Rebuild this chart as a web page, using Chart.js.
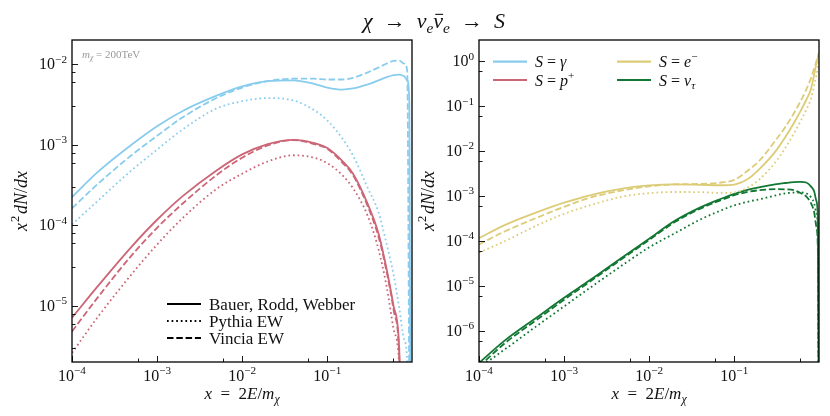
<!DOCTYPE html>
<html>
<head>
<meta charset="utf-8">
<script src="https://cdn.jsdelivr.net/npm/chart.js@4.4.0/dist/chart.umd.min.js"></script>
<style>
  html, body { margin: 0; padding: 0; background: #fff; }
  #marco { position: relative; width: 830px; height: 416px; }
  canvas { position: absolute; left: 0; top: 0; }
</style>
</head>
<body>
<div id="marco">
  <canvas id="izq" width="830" height="416"></canvas>
  <canvas id="der" width="830" height="416"></canvas>
</div>
<script>
// Puntos en x = 2E/m_chi (compartidos por todas las curvas)
const xPuntos = [1e-4, 2e-4, 5e-4, 1e-3, 2e-3, 5e-3, 1e-2, 2e-2, 4e-2, 7e-2, 0.1, 0.15, 0.2, 0.3, 0.4, 0.5, 0.6, 0.7, 0.8, 0.87, 0.92, 0.96, 0.99];

// Panel izquierdo: S = gamma
const gammaBRW    = [2.24e-4, 4.57e-4, 1.0e-3, 1.70e-3, 2.63e-3, 4.07e-3, 5.3e-3, 6.17e-3, 6.31e-3, 5.69e-3, 5.13e-3, 4.84e-3, 5.0e-3, 5.62e-3, 6.31e-3, 6.92e-3, 7.33e-3, 7.41e-3, 7.08e-3, 6.31e-3, 3.55e-3, 1e-8, 1e-8];
const gammaPythia = [1.02e-4, 2.0e-4, 4.8e-4, 8.7e-4, 1.55e-3, 2.82e-3, 3.47e-3, 3.8e-3, 3.55e-3, 2.69e-3, 2.0e-3, 1.2e-3, 7.4e-4, 2.88e-4, 1.45e-4, 5.75e-5, 2.45e-5, 9.5e-6, 3.8e-6, 2.0e-6, 1e-8, 1e-8, 1e-8];
const gammaVincia = [1.62e-4, 3.24e-4, 7.4e-4, 1.29e-3, 2.19e-3, 3.8e-3, 5.13e-3, 6.17e-3, 6.61e-3, 6.61e-3, 6.46e-3, 6.46e-3, 6.76e-3, 7.94e-3, 9.12e-3, 1.02e-2, 1.10e-2, 1.11e-2, 1.02e-2, 8.3e-3, 1e-6, 1e-8, 1e-8];

// Panel izquierdo: S = p+
const protonBRW    = [7.1e-6, 1.74e-5, 5.4e-5, 1.17e-4, 2.3e-4, 4.8e-4, 7.6e-4, 1.02e-3, 1.15e-3, 1.05e-3, 9.1e-4, 6.3e-4, 4.4e-4, 1.82e-4, 7.9e-5, 2.8e-5, 1.0e-5, 3.0e-6, 1e-8, 1e-8, 1e-8, 1e-8, 1e-8];
const protonPythia = [2.6e-6, 7.2e-6, 2.45e-5, 5.75e-5, 1.23e-4, 2.82e-4, 4.37e-4, 6.2e-4, 7.4e-4, 6.9e-4, 5.9e-4, 4.2e-4, 2.9e-4, 1.29e-4, 5.0e-5, 1.7e-5, 5.2e-6, 1.78e-6, 1e-8, 1e-8, 1e-8, 1e-8, 1e-8];
const protonVincia = [4.8e-6, 1.26e-5, 4.2e-5, 9.3e-5, 1.86e-4, 4.2e-4, 6.9e-4, 9.8e-4, 1.14e-3, 1.02e-3, 8.9e-4, 6.0e-4, 4.2e-4, 1.7e-4, 7.2e-5, 2.6e-5, 9.0e-6, 2.4e-6, 1e-8, 1e-8, 1e-8, 1e-8, 1e-8];

// Panel derecho: S = e-
const electronBRW    = [1.15e-4, 2.24e-4, 4.47e-4, 7.1e-4, 1.04e-3, 1.48e-3, 1.72e-3, 1.82e-3, 1.78e-3, 1.74e-3, 1.80e-3, 2.51e-3, 4.07e-3, 9.5e-3, 2.1e-2, 4.2e-2, 7.8e-2, 0.138, 0.25, 0.52, 0.87, 1.2, 1.45];
const electronPythia = [5.5e-5, 9.8e-5, 2.3e-4, 4.0e-4, 6.2e-4, 9.8e-4, 1.16e-3, 1.23e-3, 1.22e-3, 1.17e-3, 1.2e-3, 1.62e-3, 2.4e-3, 5.5e-3, 1.2e-2, 2.45e-2, 4.6e-2, 8.3e-2, 0.151, 0.295, 0.48, 0.76, 1.12];
const electronVincia = [8.3e-5, 1.62e-4, 3.4e-4, 5.75e-4, 9.1e-4, 1.35e-3, 1.64e-3, 1.82e-3, 1.86e-3, 2.0e-3, 2.29e-3, 3.9e-3, 6.3e-3, 1.66e-2, 3.5e-2, 6.9e-2, 0.129, 0.234, 0.43, 0.71, 0.99, 1.29, 1.58];

// Panel derecho: S = nu_tau
const tauBRW    = [1.9e-7, 6.0e-7, 2.1e-6, 5.4e-6, 1.32e-5, 4.5e-5, 1.12e-4, 2.8e-4, 5.6e-4, 8.7e-4, 1.12e-3, 1.41e-3, 1.58e-3, 1.82e-3, 1.95e-3, 2.04e-3, 2.07e-3, 2.0e-3, 1.62e-3, 1.26e-3, 7.9e-4, 3.2e-4, 1e-9];
const tauPythia = [1.48e-7, 3.8e-7, 1.35e-6, 3.47e-6, 8.9e-6, 3.0e-5, 7.2e-5, 1.48e-4, 3.0e-4, 4.8e-4, 6.2e-4, 7.6e-4, 8.5e-4, 1.02e-3, 1.15e-3, 1.19e-3, 1.2e-3, 1.15e-3, 9.3e-4, 6.8e-4, 4.2e-4, 1.41e-4, 1e-9];
const tauVincia = [1.58e-7, 5.2e-7, 1.86e-6, 4.9e-6, 1.23e-5, 4.2e-5, 1.05e-4, 2.63e-4, 5.25e-4, 8.1e-4, 1.04e-3, 1.26e-3, 1.35e-3, 1.43e-3, 1.41e-3, 1.35e-3, 1.17e-3, 9.8e-4, 6.8e-4, 4.3e-4, 2.1e-4, 6.3e-5, 1e-9];

// Exponentes de las etiquetas de los ejes
const expX = [-4, -3, -2, -1];
const expYIzq = [-5, -4, -3, -2];
const expYDer = [-6, -5, -4, -3, -2, -1, 0];

const colores = { gamma: '#88CCEE', proton: '#CC6677', electron: '#DDCC77', tau: '#117733' };
const trazos = { solido: [], punteado: [1.7, 2.9], rayado: [6.5, 2.8] };
const FUENTE = '"Liberation Serif", "DejaVu Serif", serif';
const ESP = '\u2002';

// --- texto con subindices / superindices ---
const R = t => ({ t });
const I = t => ({ t, i: true });
const SUP = (t, i) => ({ t, v: 'sup', i });
const SUB = (t, i) => ({ t, v: 'sub', i });

function fuente(p, size) {
  const s = p.v ? size * 0.7 : size;
  return (p.i ? 'italic ' : '') + s + 'px ' + FUENTE;
}
function textoRico(ctx, partes, x, y, size, align) {
  let w = 0;
  partes.forEach(p => { ctx.font = fuente(p, size); w += ctx.measureText(p.t).width + (p.g || 0); });
  let cx = align === 'center' ? x - w / 2 : align === 'right' ? x - w : x;
  ctx.textAlign = 'left';
  ctx.textBaseline = 'alphabetic';
  partes.forEach(p => {
    ctx.font = fuente(p, size);
    const dy = p.v === 'sup' ? -0.42 * size : p.v === 'sub' ? 0.22 * size : 0;
    ctx.fillText(p.t, cx, y + dy);
    const pw = ctx.measureText(p.t).width;
    if (p.bar) {
      ctx.save();
      ctx.lineWidth = size * 0.05;
      ctx.strokeStyle = ctx.fillStyle;
      ctx.beginPath();
      ctx.moveTo(cx + pw * 0.2, y - size * 0.62);
      ctx.lineTo(cx + pw * 1.0, y - size * 0.62);
      ctx.stroke();
      ctx.restore();
    }
    cx += pw + (p.g || 0);
  });
}
const etiquetaPotencia = e => [R('10'), SUP(e < 0 ? '\u2212' + (-e) : String(e))];

// ticks 1..9 x 10^k dentro del rango
function ticksLog(scale) {
  const lista = [];
  for (let k = -8; k <= 1; k++) {
    for (let m = 1; m <= 9; m++) {
      const v = m * Math.pow(10, k);
      if (v >= scale.min * 0.9999 && v <= scale.max * 1.0001) lista.push({ value: v, major: m === 1 });
    }
  }
  scale.ticks = lista;
}

function serie(ys, color, estilo) {
  return {
    data: xPuntos.map((x, i) => ({ x, y: ys[i] })),
    borderColor: color,
    borderWidth: 1.8,
    borderDash: trazos[estilo],
    borderCapStyle: 'butt',
    pointRadius: 0,
    fill: false,
    cubicInterpolationMode: 'monotone',
    tension: 0.4
  };
}

// Marco, ticks hacia dentro, etiquetas y titulos de ejes
const ejes = {
  id: 'ejes',
  afterDraw(chart, args, opts) {
    const ctx = chart.ctx, a = chart.chartArea;
    const sx = chart.scales.x, sy = chart.scales.y;
    ctx.save();
    ctx.strokeStyle = '#000';
    ctx.fillStyle = '#111';
    ctx.lineWidth = 0.9;
    ctx.beginPath();
    sx.ticks.forEach(t => {
      const px = Math.round(sx.getPixelForValue(t.value)) + 0.5;
      const len = t.major ? 6 : 3.5;
      ctx.moveTo(px, a.bottom); ctx.lineTo(px, a.bottom - len);
    });
    sy.ticks.forEach(t => {
      const py = Math.round(sy.getPixelForValue(t.value)) + 0.5;
      const len = t.major ? 6 : 3.5;
      ctx.moveTo(a.left, py); ctx.lineTo(a.left + len, py);
    });
    ctx.stroke();
    ctx.lineWidth = 1.3;
    ctx.strokeRect(a.left, a.top, a.right - a.left, a.bottom - a.top);

    expX.forEach(e => {
      const px = sx.getPixelForValue(Math.pow(10, e));
      textoRico(ctx, etiquetaPotencia(e), px, a.bottom + 19, 16, 'center');
    });
    opts.expY.forEach(e => {
      const py = sy.getPixelForValue(Math.pow(10, e));
      textoRico(ctx, etiquetaPotencia(e), a.left - 5, py + 5, 16, 'right');
    });
    textoRico(ctx, [I('x'), R(ESP + '=' + ESP + '2'), I('E'), R('/'), I('m'), SUB('\u03C7', true)], (a.left + a.right) / 2, a.bottom + 37, 17, 'center');
    ctx.translate(a.left - 45, (a.top + a.bottom) / 2);
    ctx.rotate(-Math.PI / 2);
    textoRico(ctx, [{ t: 'x', i: true, g: 1 }, { t: '2', v: 'sup', g: 1.5 }, I('dN'), R('/'), I('dx')], 0, 0, 18, 'center');
    ctx.restore();
  }
};

// Leyenda dibujada dentro del area del grafico
const leyenda = {
  id: 'leyenda',
  afterDraw(chart, args, opts) {
    const ctx = chart.ctx, a = chart.chartArea;
    ctx.save();
    opts.items.forEach(it => {
      const x0 = a.left + it.dx, y0 = a.top + it.dy;
      ctx.strokeStyle = it.color;
      ctx.lineWidth = opts.ancho;
      ctx.setLineDash(trazos[it.estilo]);
      ctx.beginPath();
      ctx.moveTo(x0, y0); ctx.lineTo(x0 + 34, y0);
      ctx.stroke();
      ctx.setLineDash([]);
      ctx.fillStyle = '#111';
      textoRico(ctx, it.texto, x0 + 42, y0 + 5.5, opts.size, 'left');
    });
    ctx.restore();
  }
};

// Titulo general y anotacion de masa
const textos = {
  id: 'textos',
  afterDraw(chart) {
    const ctx = chart.ctx, a = chart.chartArea;
    ctx.save();
    ctx.fillStyle = '#111';
    textoRico(ctx, [I('\u03C7'), R(ESP + '\u2192' + ESP), I('\u03BD'), SUB('e', true), { t: '\u03BD', i: true, bar: true }, SUB('e', true), R(ESP + '\u2192' + ESP), I('S')], 434, 28, 22, 'center');
    ctx.fillStyle = '#999';
    textoRico(ctx, [I('m'), SUB('\u03C7', true), R(' = 200TeV')], a.left + 10, a.top + 18, 11, 'left');
    ctx.restore();
  }
};

function escalas(ymin, ymax) {
  return {
    x: { type: 'logarithmic', min: 1e-4, max: 0.99, display: false, afterBuildTicks: ticksLog },
    y: { type: 'logarithmic', min: ymin, max: ymax, display: false, afterBuildTicks: ticksLog }
  };
}

new Chart(document.getElementById('izq'), {
  type: 'line',
  data: {
    datasets: [
      serie(gammaPythia, colores.gamma, 'punteado'),
      serie(gammaVincia, colores.gamma, 'rayado'),
      serie(gammaBRW, colores.gamma, 'solido'),
      serie(protonPythia, colores.proton, 'punteado'),
      serie(protonVincia, colores.proton, 'rayado'),
      serie(protonBRW, colores.proton, 'solido')
    ]
  },
  options: {
    responsive: false,
    animation: false,
    layout: { padding: { left: 72, right: 418, top: 40, bottom: 54 } },
    scales: escalas(2e-6, 2e-2),
    plugins: {
      legend: { display: false },
      tooltip: { enabled: false },
      ejes: { expY: expYIzq },
      leyenda: {
        size: 17, ancho: 1.8,
        items: [
          { dx: 95, dy: 264, color: '#000', estilo: 'solido', texto: [R('Bauer, Rodd, Webber')] },
          { dx: 95, dy: 281, color: '#000', estilo: 'punteado', texto: [R('Pythia EW')] },
          { dx: 95, dy: 298, color: '#000', estilo: 'rayado', texto: [R('Vincia EW')] }
        ]
      }
    }
  },
  plugins: [ejes, leyenda, textos]
});

new Chart(document.getElementById('der'), {
  type: 'line',
  data: {
    datasets: [
      serie(electronPythia, colores.electron, 'punteado'),
      serie(electronVincia, colores.electron, 'rayado'),
      serie(electronBRW, colores.electron, 'solido'),
      serie(tauPythia, colores.tau, 'punteado'),
      serie(tauVincia, colores.tau, 'rayado'),
      serie(tauBRW, colores.tau, 'solido')
    ]
  },
  options: {
    responsive: false,
    animation: false,
    layout: { padding: { left: 479, right: 11, top: 40, bottom: 54 } },
    scales: escalas(2e-7, 3),
    plugins: {
      legend: { display: false },
      tooltip: { enabled: false },
      ejes: { expY: expYDer },
      leyenda: {
        size: 16, ancho: 2.2,
        items: [
          { dx: 14, dy: 21.7, color: colores.gamma, estilo: 'solido', texto: [I('S'), R(' = '), I('\u03B3')] },
          { dx: 14, dy: 40, color: colores.proton, estilo: 'solido', texto: [I('S'), R(' = '), I('p'), SUP('+')] },
          { dx: 138, dy: 21.7, color: colores.electron, estilo: 'solido', texto: [I('S'), R(' = '), I('e'), SUP('\u2212')] },
          { dx: 138, dy: 40, color: colores.tau, estilo: 'solido', texto: [I('S'), R(' = '), I('\u03BD'), SUB('\u03C4', true)] }
        ]
      }
    }
  },
  plugins: [ejes, leyenda]
});
</script>
</body>
</html>
